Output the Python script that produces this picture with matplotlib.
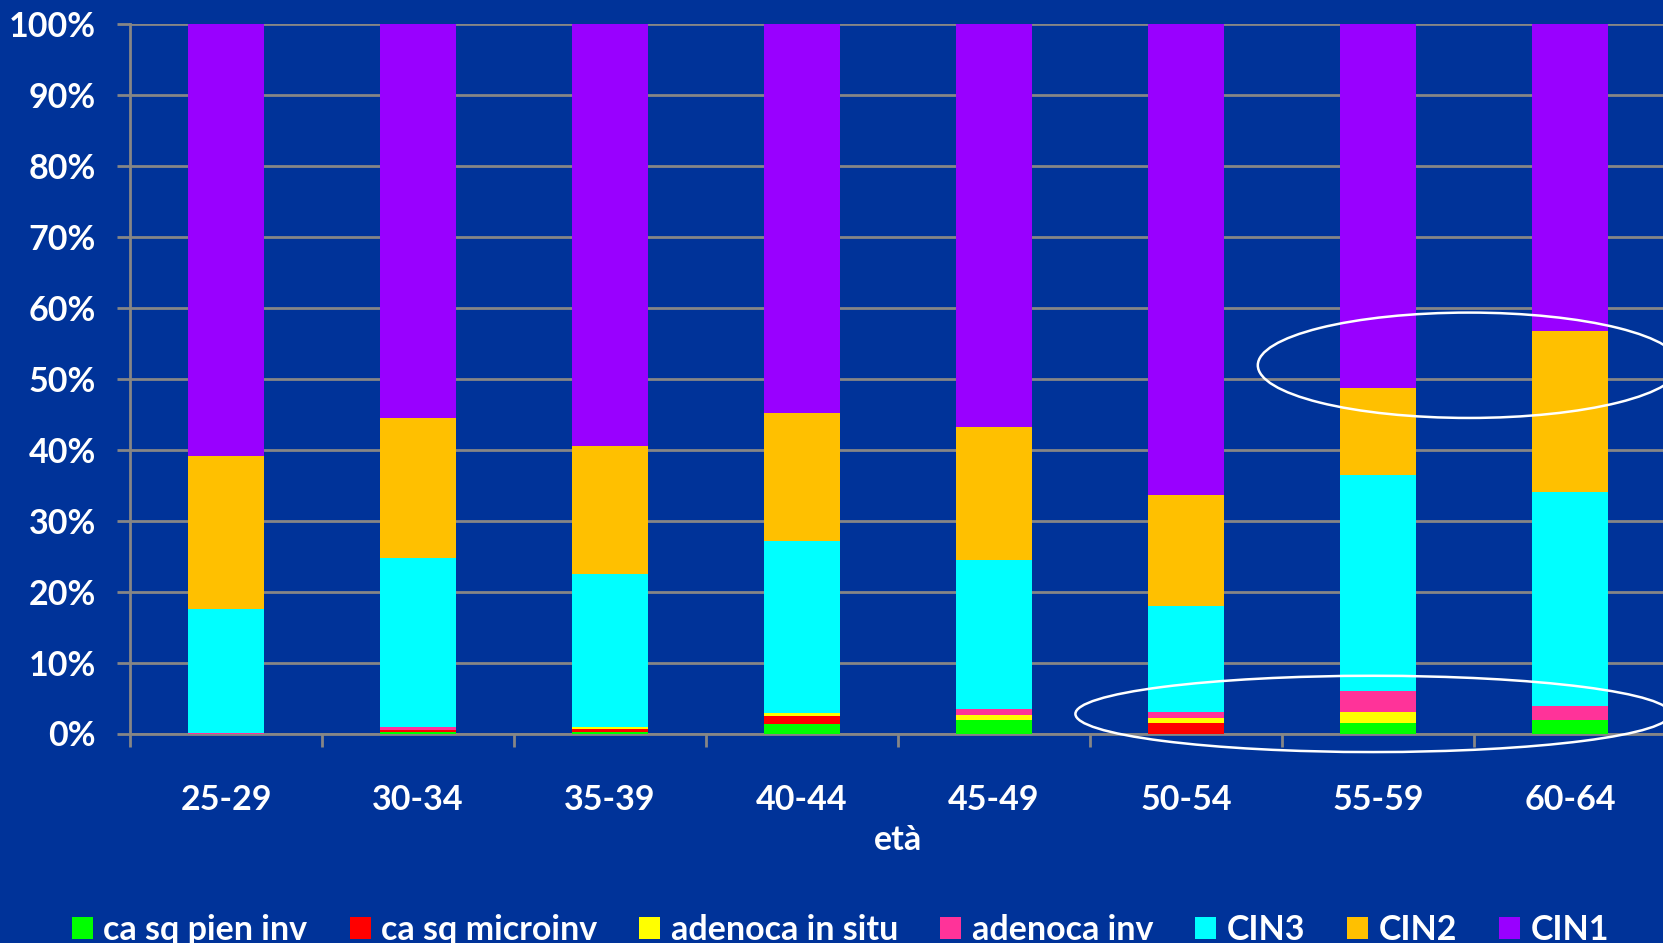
import numpy as np
import matplotlib
matplotlib.use('Agg')
import matplotlib.pyplot as plt
from matplotlib.patches import Ellipse

plt.rcParams['font.family'] = ['Lato', 'DejaVu Sans']
plt.rcParams['font.weight'] = 'bold'

# age classes
eta = ['25-29', '30-34', '35-39', '40-44', '45-49', '50-54', '55-59', '60-64']

# percent of each lesion type per age class (stacked bottom -> top)
ca_sq_pien_inv = [0.0, 0.2, 0.2, 1.32, 1.9, 0.0, 1.45, 1.9]
ca_sq_microinv = [0.0, 0.35, 0.4, 1.18, 0.0, 1.45, 0.0, 0.0]
adenoca_in_situ = [0.0, 0.0, 0.25, 0.33, 0.75, 0.75, 1.6, 0.0]
adenoca_inv = [0.1, 0.3, 0.05, 0.0, 0.8, 0.85, 3.0, 2.0]
cin3 = [17.45, 23.95, 21.55, 24.34, 20.98, 14.87, 30.32, 30.16]
cin2 = [21.5, 19.63, 18.12, 18.07, 18.82, 15.71, 12.26, 22.74]
cin1 = [60.95, 55.57, 59.43, 54.76, 56.75, 66.37, 51.37, 43.2]

series = [
    ('ca sq pien inv', ca_sq_pien_inv, '#00ff00'),
    ('ca sq microinv', ca_sq_microinv, '#ff0000'),
    ('adenoca in situ', adenoca_in_situ, '#ffff00'),
    ('adenoca inv', adenoca_inv, '#ff3399'),
    ('CIN3', cin3, '#00ffff'),
    ('CIN2', cin2, '#ffc000'),
    ('CIN1', cin1, '#9900ff'),
]

bg = '#003399'
grey = '#868686'
fs = 24.5

fig = plt.figure(figsize=(16.63, 9.43), dpi=100, facecolor=bg)
ax = fig.add_axes([130 / 1663, 209.5 / 943, 1536 / 1663, 709.5 / 943])
ax.set_facecolor(bg)

x = np.arange(len(eta)) + 0.5
bottom = np.zeros(len(eta))
for name, vals, col in series:
    vals = np.array(vals, dtype=float)
    ax.bar(x, vals, width=0.4, bottom=bottom, color=col, label=name,
           zorder=3, linewidth=0)
    bottom += vals

ax.set_xlim(0, len(eta))
ax.set_ylim(0, 100)
ax.set_yticks(np.arange(0, 101, 10))
ax.set_yticklabels(['%d%%' % v for v in range(0, 101, 10)])
ax.yaxis.grid(True, color=grey, linewidth=2, zorder=1)
ax.set_axisbelow(True)

ax.set_xticks(x)
ax.set_xticklabels(eta)
ax.set_xticks(np.arange(0, len(eta) + 1), minor=True)
ax.tick_params(axis='x', which='major', length=0, pad=36, labelsize=fs,
               labelcolor='white')
ax.tick_params(axis='x', which='minor', length=9, width=2, color=grey,
               direction='out')
ax.tick_params(axis='y', length=9.5, width=2, color=grey, pad=15,
               labelsize=fs, labelcolor='white')

for s in ['top', 'right']:
    ax.spines[s].set_visible(False)
for s in ['left', 'bottom']:
    ax.spines[s].set_color(grey)
    ax.spines[s].set_linewidth(2)

ax.set_xlabel('età', color='white', fontsize=fs, fontweight='bold', labelpad=6)

# highlight ellipses
ax.add_patch(Ellipse((6.974, 51.9), 2.2, 14.85, fill=False, edgecolor='white',
                     linewidth=1.8, zorder=5, clip_on=False))
ax.add_patch(Ellipse((6.474, 2.76), 3.1, 10.75, fill=False, edgecolor='white',
                     linewidth=1.8, zorder=5, clip_on=False))

leg = fig.legend(loc='upper left', bbox_to_anchor=(72 / 1663, 1 - 914 / 943),
                 ncol=7, frameon=False, fontsize=fs, handlelength=0.62,
                 handleheight=0.6, handletextpad=0.3, columnspacing=1.24,
                 borderpad=0, borderaxespad=0)
for t in leg.get_texts():
    t.set_color('white')
    t.set_fontweight('bold')

fig.savefig('out.png', dpi=100, facecolor=bg)
